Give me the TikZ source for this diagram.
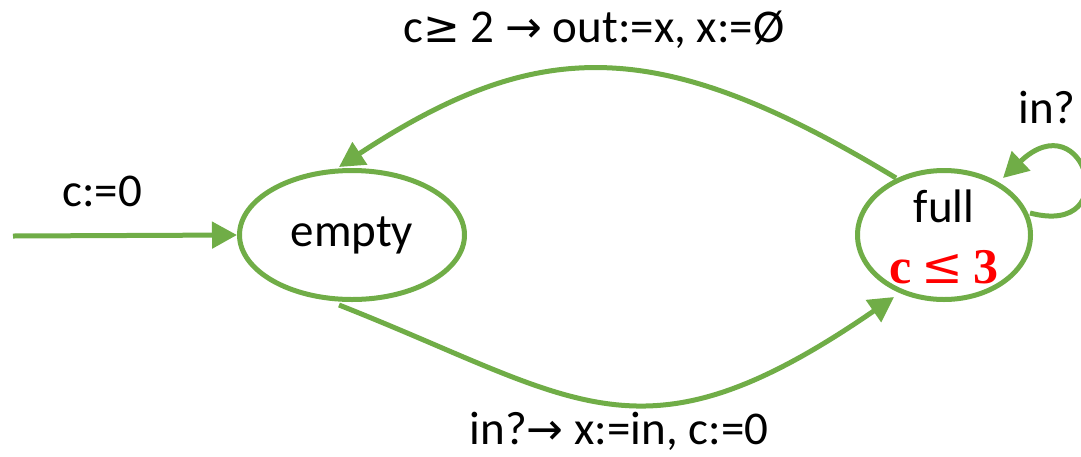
\documentclass[tikz,border=0pt]{standalone}
\usepackage{fontspec}
\setmainfont{Carlito}
\newfontfamily\symfont{DejaVu Sans}
\newfontfamily\invfont{Liberation Serif}
\newfontfamily\invsym{DejaVu Serif}
\usetikzlibrary{shapes.geometric,arrows.meta}
\definecolor{grn}{HTML}{70AD47}
\definecolor{redinv}{RGB}{255,0,0}
\tikzset{
  state/.style={ellipse, draw=grn, line width=5pt, inner sep=0pt, fill=white},
  edge/.style={draw=grn, line width=5pt, -{Triangle[length=25pt,width=26pt]}},
  lbl/.style={font=\fontsize{47}{52}\selectfont, inner sep=0pt, anchor=base},
}
\newcommand{\sy}[1]{{\symfont\fontsize{44}{48}\selectfont #1}}
\begin{document}
\begin{tikzpicture}[x=1pt,y=-1pt]
\useasboundingbox (0,0) rectangle (1081,456);
\node[state, minimum width=225pt, minimum height=129pt, font=\fontsize{47}{52}\selectfont] (empty) at (352,235) {empty};
\node[state, minimum width=173pt, minimum height=129pt] (full) at (944,235) {};
\node[lbl] (fulltxt) at (944,222) {full};
\node[lbl, text=redinv] (invariant) at (944,283) {{\invfont\bfseries\fontsize{50}{54}\selectfont c\hspace{10pt}{\invsym\mdseries ≤}\hspace{10pt}3}};
\coordinate (init) at (13,236);
\draw[edge] (init) -- (empty.west);
\node[lbl] (initlbl) at (102,206) {c:=0};
% top edge full -> empty
\coordinate (t0) at (896,178);
\coordinate (t1) at (339,167);
\draw[edge] (t0) .. controls (660,35) and (540,35) .. (t1);
\node[lbl] (toplbl) at (594,42) {c\sy{≥} 2 \sy{→} out:=x, x:=Ø};
% bottom edge empty -> full
\coordinate (b0) at (339,305);
\coordinate (b1) at (894,297);
\draw[edge] (b0) .. controls (580,400) and (640,472) .. (b1);
\node[lbl] (botlbl) at (619,444) {in?\sy{→} x:=in, c:=0};
% self loop
\coordinate (s0) at (1030,213);
\coordinate (s1) at (1003,178);
\draw[edge] (s0) .. controls (1125,238) and (1085,100) .. (s1);
\node[lbl] (looplbl) at (1047,123) {in?};
\end{tikzpicture}
\end{document}
